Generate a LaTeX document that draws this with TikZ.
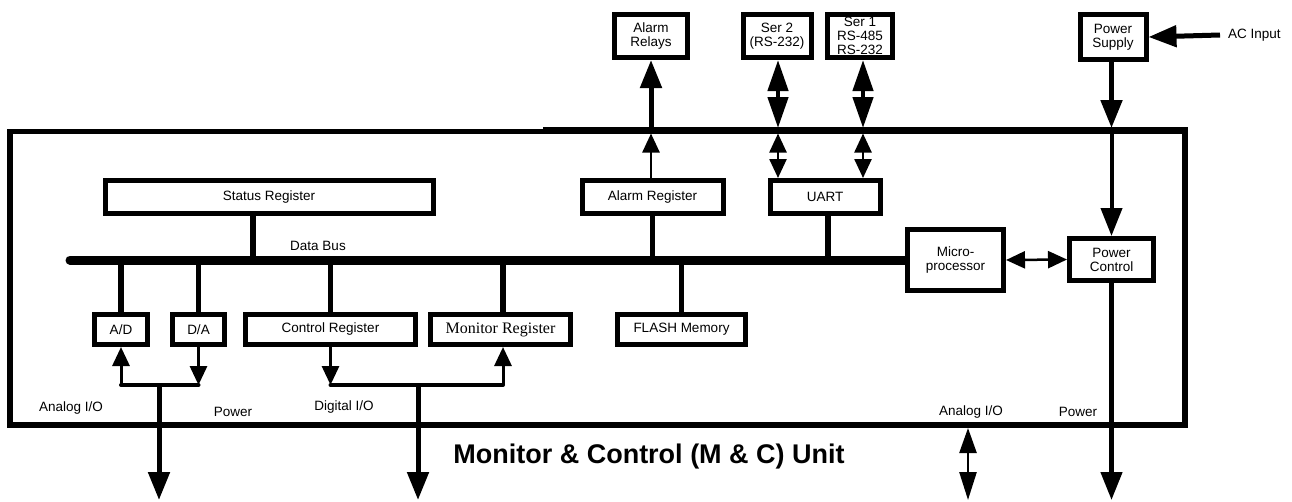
\documentclass[tikz,border=0pt]{standalone}
\usepackage{fontspec}
\setmainfont{Liberation Sans}
\newfontfamily\timesfont{Liberation Serif}
\usetikzlibrary{arrows.meta}
\tikzset{
  box/.style = {draw,line width=5pt,inner sep=0pt,align=center,font=\fontsize{13.5}{14}\selectfont},
  lbl/.style = {inner sep=0pt,font=\fontsize{13.5}{14}\selectfont},
  stub/.style = {line width=5.5pt},
  fine/.style = {line width=2.5pt},
  bigtip/.tip = {Triangle[length=28pt,width=21pt]},
  smalltip/.tip = {Triangle[length=19pt,width=17pt]}
}

\begin{document}
\begin{tikzpicture}[x=1pt,y=-1pt]
  \useasboundingbox (0,0) rectangle (1292,501);
  \coordinate (ftop) at (0,128);
  \coordinate (fin) at (0,133.5);
  \coordinate (fbot) at (0,428);
  \coordinate (ground) at (0,500);
  % the unit
  \draw[line width=6.5pt] (543,130.5) -| (1185,425) -| (10,131.5);
  \draw[line width=5pt] (7,131.5) -- (546,131.5);
  % outside
  \node[box,minimum width=73pt,minimum height=43pt] (relays) at (651,36) {Alarm\\Relays};
  \node[box,minimum width=68pt,minimum height=43pt] (ser2) at (777,36) {Ser 2\\(RS-232)};
  \node[box,minimum width=65pt,minimum height=43pt] (ser1) at (860,36) {Ser 1\\RS-485\\RS-232};
  \node[box,minimum width=66pt,minimum height=45pt] (supply) at (1113,37) {Power\\Supply};
  \node[lbl,anchor=west] (acin) at (1228,35) {AC Input};
  % registers on the bus
  \node[box,minimum width=328pt,minimum height=33pt] (status) at (269,197) {Status Register};
  \node[box,minimum width=141pt,minimum height=33pt] (alarmreg) at (652.5,197) {Alarm Register};
  \node[box,minimum width=110pt,minimum height=33pt] (uart) at (825,197) {UART};
  \node[box,minimum width=96pt,minimum height=61pt] (micro) at (955.5,260) {Micro-\\processor};
  \node[box,minimum width=84pt,minimum height=42pt] (pwrctl) at (1111.5,259.5) {Power\\Control};
  \node[box,minimum width=53pt,minimum height=30pt] (ad) at (121,329.5) {A/D};
  \node[box,minimum width=52pt,minimum height=30pt] (da) at (198.5,329.5) {D/A};
  \node[box,minimum width=170pt,minimum height=30pt] (ctlreg) at (330.5,329.5) {Control Register};
  \node[box,minimum width=140pt,minimum height=30pt,font=\timesfont\fontsize{16}{16}\selectfont] (monreg) at (500.5,329.5) {Monitor Register};
  \node[box,minimum width=128pt,minimum height=30pt] (flash) at (681.5,329.5) {FLASH Memory};
  % data bus
  \coordinate (bus) at (70,260);
  \draw[line width=9pt,line cap=round] (bus) -- (micro.west);
  \node[lbl] (busl) at (318,246) {Data Bus};
  \draw[stub] ([xshift=-16pt]status.south) -- ([xshift=-16pt]status.south |- bus);
  \draw[stub] (alarmreg.south) -- (alarmreg.south |- bus);
  \draw[stub] ([xshift=3pt]uart.south) -- ([xshift=3pt]uart.south |- bus);
  \draw[stub] (ad.north) -- (ad.north |- bus);
  \draw[stub] (da.north) -- (da.north |- bus);
  \draw[stub] (ctlreg.north) -- (ctlreg.north |- bus);
  \draw[stub] ([xshift=2.5pt]monreg.north) -- ([xshift=2.5pt]monreg.north |- bus);
  \draw[stub] (flash.north) -- (flash.north |- bus);
  % through the top of the unit
  \draw[fine,-smalltip] (alarmreg.north -| relays) -- (relays |- fin);
  \draw[line width=5pt,bigtip-] (relays.south) -- (relays |- ftop);
  \foreach \s/\x in {ser2/778,ser1/863} {
    \draw[line width=4.5pt,{Triangle[length=31pt,width=20pt]}-{Triangle[length=31pt,width=20pt]}] (\s.south -| \x,0) -- (\x,128);
    \draw[fine,smalltip-smalltip] (\x,133.5) -- (uart.north -| \x,0);
  }
  \draw[line width=5pt,-bigtip] ([xshift=-8pt]acin.west) -- (supply.east);
  \draw[line width=5pt,-bigtip] (supply.south -| pwrctl) -- (pwrctl |- ftop);
  \draw[line width=4pt,-bigtip] (pwrctl |- fin) -- (pwrctl.north);
  \draw[fine,smalltip-smalltip] (micro.east) -- (pwrctl.west);
  % through the bottom of the unit
  \coordinate (ana) at (159,385);
  \coordinate (dig) at (418,385);
  \draw[line width=4pt,line cap=round] (ad.south |- ana) -- (da.south |- ana);
  \draw[line width=3pt,-smalltip] (ad.south |- ana) -- (ad.south);
  \draw[line width=3pt,-smalltip] (da.south) -- (da.south |- ana);
  \draw[line width=5pt,-bigtip] (ana) -- (ana |- ground);
  \draw[line width=4pt,line cap=round] (ctlreg.south |- dig) -- ([xshift=2.5pt]monreg.south |- dig);
  \draw[line width=3pt,-smalltip] (ctlreg.south) -- (ctlreg.south |- dig);
  \draw[line width=3pt,-smalltip] ([xshift=2.5pt]monreg.south |- dig) -- ([xshift=2.5pt]monreg.south);
  \draw[line width=5pt,-bigtip] (dig) -- (dig |- ground);
  \draw[line width=4.5pt,-bigtip] (pwrctl.south) -- (pwrctl.south |- ground);
  \coordinate (aio) at (968,428);
  \draw[fine,{Triangle[length=25pt,width=17pt]}-{Triangle[length=28pt,width=17pt]}] (aio) -- (aio |- ground);
  % labels
  \node[lbl] (aiol) at (71,408) {Analog I/O};
  \node[lbl] (pwrl) at (233,412) {Power};
  \node[lbl] (diol) at (344,407) {Digital I/O};
  \node[lbl] (aior) at (971,412) {Analog I/O};
  \node[lbl] (pwrr) at (1078,412) {Power};
  \node[font=\bfseries\fontsize{27}{30}\selectfont,anchor=base] (title) at (649,463) {Monitor \& Control (M \& C) Unit};
\end{tikzpicture}
\end{document}
